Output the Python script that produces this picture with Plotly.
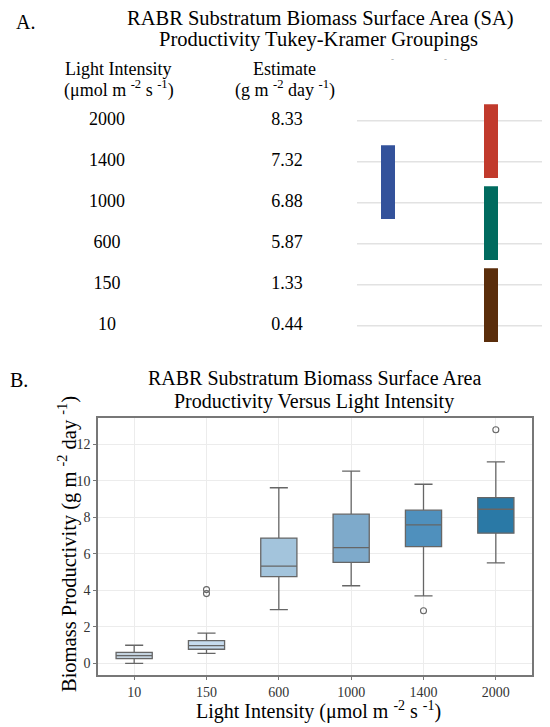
import plotly.graph_objects as go

# ---------------- data ----------------
intensities = ['2000', '1400', '1000', '600', '150', '10']
estimates = ['8.33', '7.32', '6.88', '5.87', '1.33', '0.44']

group_names = ['A', 'B', 'C', 'D']
group_members = [['2000', '1400'], ['1400', '1000'], ['1000', '600'], ['150', '10']]
group_colors = ['#C13A2C', '#33529B', '#006B5F', '#5A2D0B']
group_column = [1, 0, 1, 1]

box_labels = ['10', '150', '600', '1000', '1400', '2000']
lower_whisker = [0.00, 0.55, 2.94, 4.25, 3.70, 5.50]
q1_vals = [0.26, 0.77, 4.75, 5.53, 6.39, 7.13]
median_vals = [0.42, 0.97, 5.32, 6.34, 7.58, 8.44]
q3_vals = [0.60, 1.24, 6.86, 8.17, 8.39, 9.08]
upper_whisker = [0.99, 1.65, 9.62, 10.53, 9.81, 11.04]
box_fills = ['#c4d3df', '#c6dbee', '#a3c4dc', '#7eaacb', '#4f90bd', '#2a79a6']

outlier_x = ['150', '150', '1400', '2000']
outlier_y = [3.82, 4.04, 2.88, 12.80]

# ---------------- layout constants ----------------
W, H = 550, 727
FONT = 'Liberation Serif'


def px(x):
    return x / W


def py(y):
    return 1 - y / H


fig = go.Figure()

# ----- Panel A (table + groupings) on x2/y2 -----
row_idx = list(range(len(intensities)))
row_of = {lab: i for i, lab in enumerate(intensities)}

# grid lines for each row (drawn below the bars)
shapes = []
for i in row_idx:
    shapes.append(dict(type='line', xref='x2', yref='y2', x0=357, x1=542, y0=i, y1=i,
                       line=dict(color='#e2e2e2', width=1.6), layer='below'))

# table text
fig.add_trace(go.Scatter(x=[107] * len(intensities), y=row_idx, mode='text', text=intensities,
                         xaxis='x2', yaxis='y2', textposition='middle center',
                         textfont=dict(family=FONT, size=18, color='black')))
fig.add_trace(go.Scatter(x=[287] * len(estimates), y=row_idx, mode='text', text=estimates,
                         xaxis='x2', yaxis='y2', textposition='middle center',
                         textfont=dict(family=FONT, size=18, color='black')))

col_x = [388, 491]
for name, members, color, col in zip(group_names, group_members, group_colors, group_column):
    idx = [row_of[m] for m in members]
    start = min(idx) - 0.4
    length = max(idx) - min(idx) + 0.8
    fig.add_trace(go.Bar(x=[col_x[col]], y=[length], base=[start], width=14,
                         marker=dict(color=color, line=dict(width=0)),
                         xaxis='x2', yaxis='y2', name=name))

# ----- Panel B (boxplot) on x/y -----
for lab, lo, a, m, b, hi, fc in zip(box_labels, lower_whisker, q1_vals, median_vals,
                                    q3_vals, upper_whisker, box_fills):
    fig.add_trace(go.Box(x=[lab], q1=[a], median=[m], q3=[b], lowerfence=[lo], upperfence=[hi],
                         fillcolor=fc, line=dict(color='#666666', width=1.3),
                         width=0.5, whiskerwidth=0.5, boxpoints=False,
                         xaxis='x', yaxis='y', name=lab))

fig.add_trace(go.Scatter(x=outlier_x, y=outlier_y, mode='markers', xaxis='x', yaxis='y',
                         marker=dict(symbol='circle-open', size=6, color='#666666',
                                     line=dict(width=1.1))))

# ---------------- annotations (titles, headers) ----------------
ann = []


def add_text(text, x, y, size, xanchor='center', angle=0, color='black'):
    ann.append(dict(text=text, x=px(x), y=py(y), xref='paper', yref='paper',
                    xanchor=xanchor, yanchor='middle', showarrow=False, textangle=angle,
                    font=dict(family=FONT, size=size, color=color)))


add_text('A.', 14, 22, 20, xanchor='left')
add_text('RABR Substratum Biomass Surface Area (SA)', 320, 18.5, 20.5)
add_text('Productivity Tukey-Kramer Groupings', 318, 40, 20.5)
add_text('Light Intensity', 118, 68.5, 18)
add_text('(μmol m <sup>-2</sup> s <sup>-1</sup>)', 118.5, 89, 18)
add_text('Estimate', 284, 68.5, 18)
add_text('(g m <sup>-2</sup> day <sup>-1</sup>)', 285, 89, 18)
add_text('-', 392, 59, 9, color='#999999')
add_text('-', 445, 59, 9, color='#999999')

add_text('B.', 8, 380, 20, xanchor='left')
add_text('RABR Substratum Biomass Surface Area', 314, 378, 20)
add_text('Productivity Versus Light Intensity', 314, 401.5, 20)
add_text('Light Intensity (μmol m <sup>-2</sup> s <sup>-1</sup>)', 318, 710, 20)
add_text('Biomass Productivity (g m <sup>-2</sup> day <sup>-1</sup>)', 67, 544, 20.5, angle=-90)

# ---------------- axes ----------------
row_top_px, row_step_px = 120.7, 41.0
y2_top_px, y2_bot_px = 0, 350
y2_range = [(y2_bot_px - row_top_px) / row_step_px, (y2_top_px - row_top_px) / row_step_px]

tick_font = dict(family=FONT, size=14, color='#333333')

fig.update_layout(
    width=W, height=H,
    margin=dict(l=0, r=0, t=0, b=0),
    paper_bgcolor='white', plot_bgcolor='white',
    showlegend=False,
    barmode='overlay', boxmode='overlay',
    annotations=ann,
    shapes=shapes,
    xaxis=dict(domain=[px(98), px(532)], type='category', categoryorder='array',
               categoryarray=box_labels, range=[-0.5, 5.5],
               showline=True, mirror=True, linecolor='#777777', linewidth=1.5,
               showgrid=True, gridcolor='#ececec', gridwidth=1, zeroline=False,
               ticks='outside', ticklen=3, tickcolor='#777777', tickwidth=1,
               tickfont=tick_font),
    yaxis=dict(domain=[py(675), py(418)], range=[-0.64, 13.44],
               tickvals=[0, 2, 4, 6, 8, 10, 12],
               showline=True, mirror=True, linecolor='#777777', linewidth=1.5,
               showgrid=True, gridcolor='#ececec', gridwidth=1, zeroline=False,
               ticks='outside', ticklen=3, tickcolor='#777777', tickwidth=1,
               tickfont=tick_font),
    xaxis2=dict(domain=[0, 1], range=[0, W], visible=False, anchor='y2'),
    yaxis2=dict(domain=[py(y2_bot_px), py(y2_top_px)], range=y2_range, visible=False,
                anchor='x2'),
)

fig.write_html('out.html', config={'displayModeBar': False},
               post_script="document.body.style.margin='0';document.body.style.overflow='hidden';")
